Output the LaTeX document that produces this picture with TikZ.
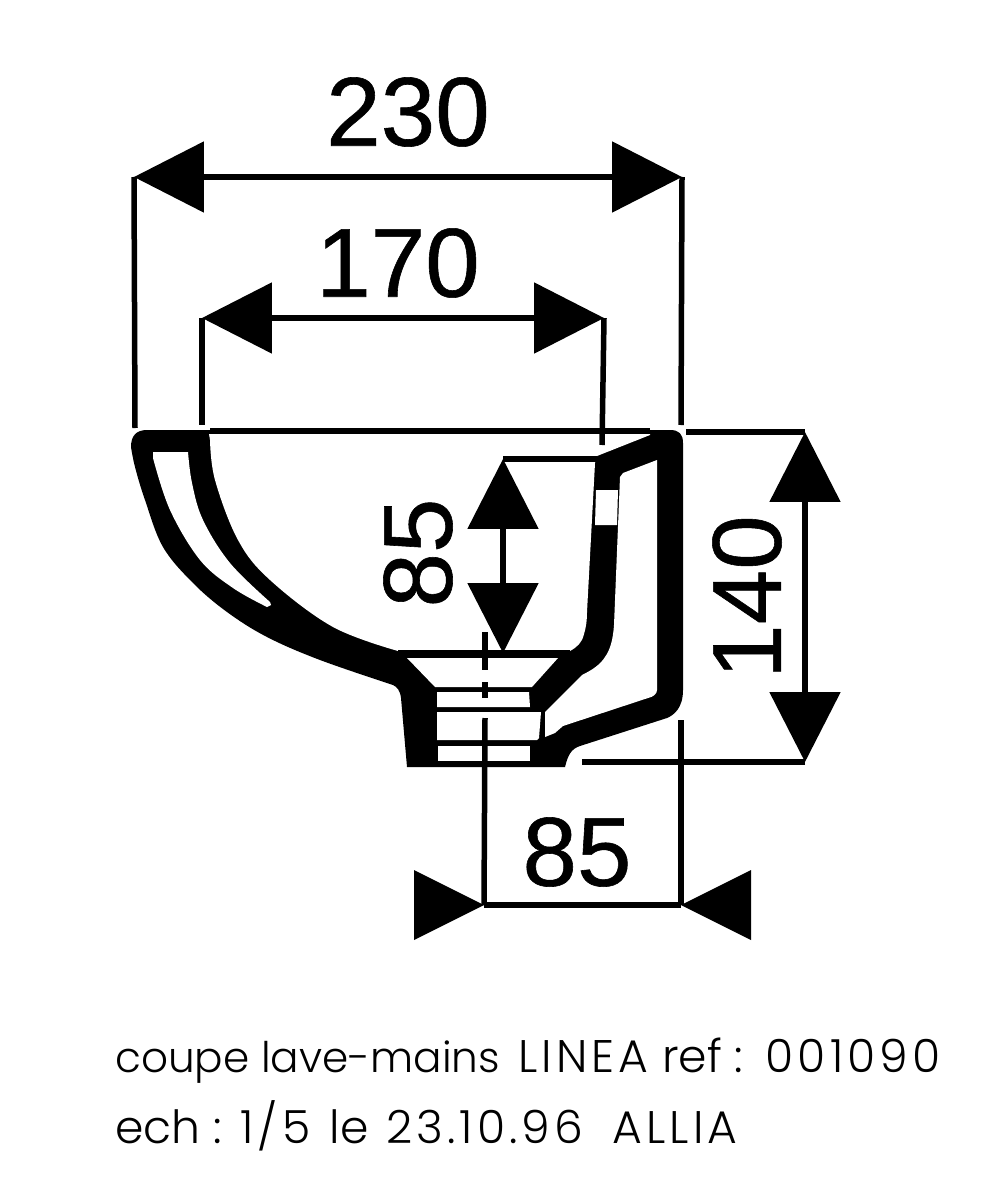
\documentclass[tikz,border=0pt]{standalone}
\usepackage{fontspec}
\usetikzlibrary{arrows.meta}
\setmainfont[FakeBold=0.6]{Liberation Sans}
\newfontfamily\capfont{Poppins Light}
\newfontfamily\capwide[LetterSpace=9]{Poppins Light}
\newcommand{\widerun}[1]{{\capwide #1}}
\newcommand{\narrun}[1]{{\fontsize{24}{30}\selectfont #1}}
\newcommand{\gp}{\hspace{0.12cm}}
\tikzset{
  x=0.02cm,y=-0.02cm,
  dimline/.style={line width=0.11cm,black},
  extline/.style={line width=0.11cm,black},
  biglabel/.style={font=\fontsize{55.8}{60}\selectfont,inner sep=0pt},
  caplabel/.style={font=\capfont\fontsize{26}{30}\selectfont,inner sep=0pt,anchor=base west},
  solid tip/.style={line width=0.11cm,{Triangle[length=1.4cm,width=1.4cm]}-{Triangle[length=1.4cm,width=1.4cm]}},
}
\begin{document}
\begin{tikzpicture}
\useasboundingbox (0,0) rectangle (989,1199);
% body silhouette
\fill[black] (131,447) .. controls (131,436) and (136,430) .. (147,430) -- (670,430)
  .. controls (679,430) and (683,434) .. (683,443) -- (683,690)
  .. controls (683,708) and (674,715) .. (667,718) -- (580,746)
  .. controls (571,749) and (568,755) .. (565,767) -- (407,767) -- (401,698)
  .. controls (400,690) and (397,687) .. (393,685)
  -- plot[smooth,tension=0.6] coordinates {(393,685) (320,660) (267,637) (227,612) (193,583) (163,547) (145,500) (135,467) (131,447)} -- cycle;
% bowl interior
\fill[white] (209,434) -- plot[smooth,tension=0.6] coordinates {(210,440) (215,480) (238,540) (270,580) (333,627) (398,651)}
  -- (570,651) .. controls (577,647) and (582,643) .. (584,634)
  .. controls (586,628) and (587,620) .. (587,612) -- (595,463) -- (597,456) -- (650,435) -- (650,434) -- cycle;
% left void
\fill[white] (153,452) -- plot[smooth,tension=0.6] coordinates {(188,452) (192,483) (203,520) (230,563) (270,602)}
  -- (271,605) -- plot[smooth,tension=0.6] coordinates {(267,607) (233,588) (200,560) (170,510) (153,458)} -- cycle;
% right cavity
\fill[white] (657,460) -- (623,473) -- (620,477) -- (614,625)
  .. controls (613,640) and (610,650) .. (605,657)
  .. controls (600,665) and (592,670) .. (582,675) -- (545,712) -- (545,737) -- (555,733)
  -- (563,726) -- (648,698) .. controls (653,697) and (657,694) .. (657,690) -- cycle;
% window and drain
\fill[white] (596,490) -- (618,490) -- (617,525) -- (595,525) -- cycle;
\fill[white] (407,658) -- (558,658) -- (532,687) -- (435,687) -- cycle;
\fill[white] (437,692) -- (529,692) -- (530,707) -- (437,707) -- cycle;
\fill[white] (437,712) -- (541,712) -- (539,738) -- (537,740) -- (437,740) -- cycle;
\fill[white] (438,746) -- (530,746) -- (530,761) -- (438,761) -- cycle;
% named ends
\coordinate (a1) at (134,177); \coordinate (a2) at (682,177);
\coordinate (a1e) at (135,428); \coordinate (a2e) at (681,425);
\coordinate (b1) at (202,318); \coordinate (b2) at (604,318);
\coordinate (b1e) at (202,425); \coordinate (b2e) at (602,445);
\coordinate (c1) at (503,459); \coordinate (c2) at (503,653);
\coordinate (c1e) at (597,459);
\coordinate (d1) at (805,432); \coordinate (d2) at (805,762);
\coordinate (d1e) at (686,432); \coordinate (d2e) at (582,762);
\coordinate (e1) at (484,905); \coordinate (e2) at (681,905);
\coordinate (e1e) at (485,718); \coordinate (e2e) at (681,720);
\coordinate (t1) at (210,431); \coordinate (t2) at (650,431);
\coordinate (m1) at (398,653); \coordinate (m2) at (570,653);
\coordinate (f1) at (485,632); \coordinate (f2) at (485,670);
\coordinate (f3) at (485,682); \coordinate (f4) at (485,698);
% thin lines
\draw[extline] (t1) -- (t2);
\draw[extline] (m1) -- (m2);
\draw[extline] (a1) -- (a1e);
\draw[extline] (a2) -- (a2e);
\draw[extline] (b1) -- (b1e);
\draw[extline] (b2) -- (b2e);
\draw[extline] (c1) -- (c1e);
\draw[extline] (d1) -- (d1e);
\draw[extline] (d2) -- (d2e);
\draw[extline] (e1) -- (e1e);
\draw[extline] (e2) -- (e2e);
\draw[extline] (f1) -- (f2);
\draw[extline] (f3) -- (f4);
% dimension arrows
\draw[solid tip] (a1) -- (a2);
\draw[solid tip] (b1) -- (b2);
\draw[solid tip] (c1) -- (c2);
\draw[solid tip] (d1) -- (d2);
\draw[dimline] (e1) -- (e2);
\fill[black] (e1) -- (414,870) -- (414,940) -- cycle;
\fill[black] (e2) -- (751,870) -- (751,940) -- cycle;
% labels
\node[biglabel] (l230) at (408,112) {230};
\node[biglabel] (l170) at (398,263) {170};
\node[biglabel,rotate=90] (l85a) at (418,553) {85};
\node[biglabel,rotate=90] (l140) at (747,597) {140};
\node[biglabel] (l85b) at (577,852) {85};
\node[caplabel] (cap1) at (115,1072) {\narrun{coupe lave-mains}\gp{} \widerun{LINEA}\hspace{0.02cm} ref :\gp{} \widerun{001090}};
\node[caplabel] (cap2) at (115,1143) {ech :\hspace{0.04cm} \widerun{1/5}\hspace{0.14cm} le\hspace{0.1cm} \widerun{23.10.96}\hspace{0.34cm} \widerun{ALLIA}};
\end{tikzpicture}
\end{document}
